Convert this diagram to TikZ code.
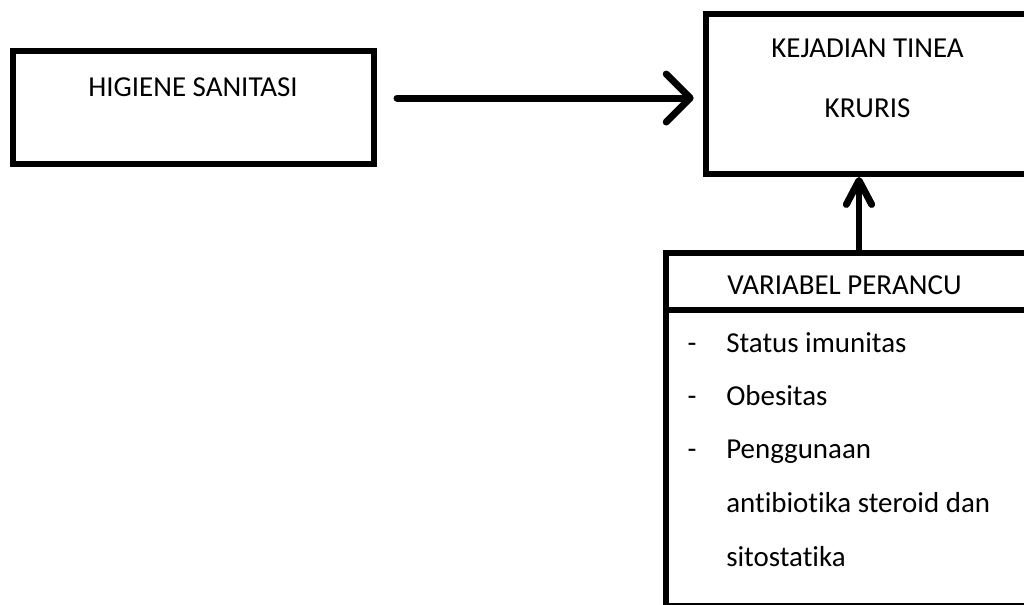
\documentclass[tikz,border=0pt]{standalone}
\usepackage{fontspec}
\setmainfont{Carlito}[Ligatures=NoCommon]
\usepackage{tikz}
\usetikzlibrary{arrows.meta}

\begin{document}
\begin{tikzpicture}[x=0.75pt,y=-0.75pt,
  box/.style={draw,rectangle,line width=4.5pt,inner sep=0pt},
  txt/.style={font=\fontsize{21.7}{26}\selectfont,inner sep=0pt},
  arrowh/.style={line width=5.2pt,line cap=round,-{Straight Barb[round,length=18pt,width=36pt]}},
  arrowv/.style={line width=5.2pt,line cap=round,-{Straight Barb[round,length=18pt,width=19pt]}}]
\path[use as bounding box,clip] (0,0) rectangle (1024,604);
\node (higiene) at (193.5,107.5) [box,minimum width=270.75pt,minimum height=84.75pt] {};
\node (kejadian) at (867.5,94) [box,minimum width=242.25pt,minimum height=120pt] {};
\node (perancu) at (859,281.5) [box,minimum width=289.5pt,minimum height=42.75pt] {};
\node (daftar) at (859,458) [box,minimum width=289.5pt,minimum height=222pt] {};
\node (higienetxt) at (193,96) [txt,anchor=base] {HIGIENE SANITASI};
\node (kejadiantxt) at (867.5,57) [txt,anchor=base] {KEJADIAN TINEA};
\node (kruristxt) at (867.5,117) [txt,anchor=base] {KRURIS};
\node (perancutxt) at (727,294) [txt,anchor=base west] {VARIABEL PERANCU};
\node (dash1) at (692,352) [txt,anchor=base] {-};
\node (imunitas) at (726,352) [txt,anchor=base west] {Status imunitas};
\node (dash2) at (692,405) [txt,anchor=base] {-};
\node (obesitas) at (726,405) [txt,anchor=base west] {Obesitas};
\node (dash3) at (692,458) [txt,anchor=base] {-};
\node (penggunaan) at (726,458) [txt,anchor=base west] {Penggunaan};
\node (antibiotika) at (726,512) [txt,anchor=base west] {antibiotika steroid dan};
\node (sitostatika) at (726,566) [txt,anchor=base west] {sitostatika};
\draw[arrowh,shorten <=15pt,shorten >=7pt] ([yshift=7.1pt]higiene.east) -- ([yshift=7.1pt]higiene.east -| kejadian.west);
\draw[arrowv] (perancu.north) -- (perancu.north |- kejadian.south);
\end{tikzpicture}
\end{document}
